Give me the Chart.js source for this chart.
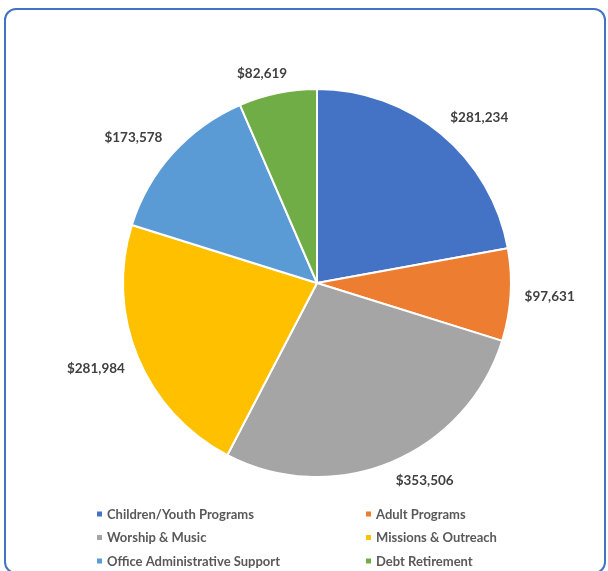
<!DOCTYPE html>
<html>
<head>
<meta charset="utf-8">
<script src="https://cdn.jsdelivr.net/npm/chart.js@4"></script>
<style>
  html, body { margin: 0; padding: 0; background: #fff; }
  #wrap { position: relative; width: 608px; height: 571px; overflow: hidden; }
  #frame { position: absolute; left: 4px; top: 8px; width: 602px; height: 566px;
           border: 2px solid #4472C4; border-radius: 12px; box-sizing: border-box; }
  #grafico { position: absolute; left: 0; top: 0; }
</style>
</head>
<body>
<div id="wrap">
  <div id="frame"></div>
  <canvas id="grafico" width="608" height="571"></canvas>
</div>
<script>
var categorie = ["Children/Youth Programs", "Adult Programs", "Worship & Music", "Missions & Outreach", "Office Administrative Support", "Debt Retirement"];
var valori = [281234, 97631, 353506, 281984, 173578, 82619];
var colori = ["#4472C4", "#ED7D31", "#A5A5A5", "#FFC000", "#5B9BD5", "#70AD47"];

function formatta(v) {
    return "$" + v.toLocaleString("en-US");
}

function limita(v) {
    return Math.max(-1, Math.min(1, v));
}

// etichette fuori dalla torta
var etichette = {
    id: "etichette",
    afterDatasetsDraw: function (chart) {
        var ctx = chart.ctx;
        var meta = chart.getDatasetMeta(0);
        ctx.save();
        ctx.font = "bold 13.5px Lato";
        ctx.fillStyle = "#404040";
        ctx.textAlign = "center";
        ctx.textBaseline = "middle";
        meta.data.forEach(function (arc, i) {
            var mid = (arc.startAngle + arc.endAngle) / 2;
            var dx = Math.cos(mid), dy = Math.sin(mid);
            var testo = formatta(valori[i]);
            var w = ctx.measureText(testo).width;
            var r = arc.outerRadius + 14;
            var x = arc.x + dx * r + limita(dx * 2.5) * w / 2;
            var y = arc.y + dy * r + limita(dy * 2.5) * 6;
            ctx.fillText(testo, x, y);
        });
        ctx.restore();
    }
};

// legenda a due colonne
var legenda = {
    id: "legenda",
    afterDraw: function (chart) {
        var ctx = chart.ctx;
        ctx.save();
        ctx.font = "bold 13px Lato";
        ctx.textBaseline = "middle";
        for (var i = 0; i < categorie.length; i++) {
            var col = i % 2, riga = Math.floor(i / 2);
            var x = col === 0 ? 97 : 366;
            var y = 514 + riga * 23.5;
            ctx.fillStyle = colori[i];
            ctx.fillRect(x, y - 2.5, 5, 5);
            ctx.fillStyle = "#595959";
            ctx.fillText(categorie[i], x + 10, y + 0.5);
        }
        ctx.restore();
    }
};

var ctx = document.getElementById("grafico");
var graficoTorta = new Chart(ctx, {
    type: "pie",
    data: {
        labels: categorie,
        datasets: [{
            data: valori,
            backgroundColor: colori,
            borderColor: "#ffffff",
            borderWidth: 2
        }]
    },
    options: {
        responsive: false,
        animation: false,
        layout: { padding: { left: 122, right: 96, top: 88, bottom: 93 } },
        plugins: {
            legend: { display: false },
            tooltip: { enabled: false }
        }
    },
    plugins: [etichette, legenda]
});
</script>
</body>
</html>
